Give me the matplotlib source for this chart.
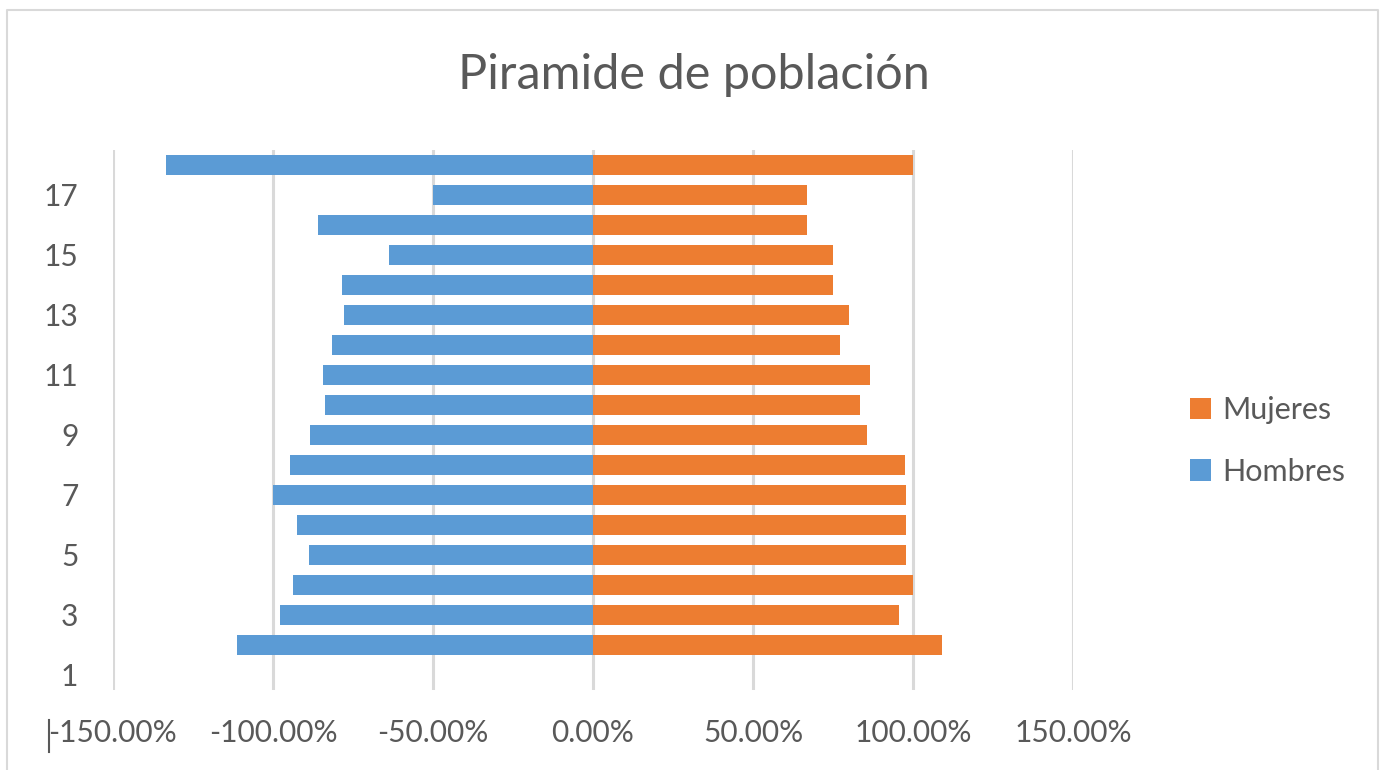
import matplotlib
matplotlib.use("Agg")
import matplotlib.pyplot as plt
from matplotlib.ticker import FuncFormatter, FixedLocator
from matplotlib.lines import Line2D

# age groups 1..18 (group 1 has no data)
groups = list(range(1, 19))
hombres = [0.0, -1.114, -0.979, -0.937, -0.887, -0.926, -1.000, -0.946, -0.884,
           -0.838, -0.844, -0.816, -0.778, -0.784, -0.636, -0.858, -0.500, -1.333]
mujeres = [0.0, 1.090, 0.957, 1.000, 0.979, 0.979, 0.979, 0.975, 0.856,
           0.833, 0.867, 0.771, 0.801, 0.751, 0.751, 0.668, 0.668, 1.000]
x_ticks = [-1.5, -1.0, -0.5, 0.0, 0.5, 1.0, 1.5]
y_ticks = [1, 3, 5, 7, 9, 11, 13, 15, 17]

blue = "#5B9BD5"
orange = "#ED7D31"
text_color = "#595959"
grid_color = "#D9D9D9"

plt.rcParams["font.family"] = ["Lato", "DejaVu Sans"]

W, H = 1383, 770
fig = plt.figure(figsize=(W / 100, H / 100), dpi=100)
ax = fig.add_axes([113 / W, 1 - 690 / H, (1073 - 113) / W, (690 - 150) / H])

ax.barh(groups, mujeres, height=0.66, color=orange, label="Mujeres", zorder=3)
ax.barh(groups, hombres, height=0.66, color=blue, label="Hombres", zorder=3)

ax.set_xlim(-1.5, 1.5)
ax.set_ylim(0.5, 18.5)
ax.xaxis.set_major_locator(FixedLocator(x_ticks))
ax.yaxis.set_major_locator(FixedLocator(y_ticks))
ax.xaxis.set_major_formatter(FuncFormatter(lambda v, p: f"{v * 100:.2f}%".replace("−", "-")))
ax.grid(axis="x", color=grid_color, linewidth=2.2, zorder=0)
ax.tick_params(axis="both", length=0, labelsize=21.5, labelcolor=text_color)
ax.tick_params(axis="x", pad=21)
ax.tick_params(axis="y", pad=25)
for s in ax.spines.values():
    s.set_visible(False)

fig.text(0.502, 1 - 75 / H, "Piramide de población", ha="center", va="center",
         fontsize=35, color=text_color)

ax.legend(loc="center left", bbox_to_anchor=(1190 / W, 1 - 441 / H),
          bbox_transform=fig.transFigure, frameon=False, fontsize=22,
          labelcolor=text_color, handlelength=0.7, handleheight=0.7,
          handletextpad=0.35, labelspacing=1.1, borderaxespad=0,
          borderpad=0)

# stray mark before the first tick label and the chart border
fig.add_artist(Line2D([49 / W, 49 / W], [1 - 720 / H, 1 - 752 / H],
                      color=text_color, linewidth=1.5, transform=fig.transFigure))
fig.add_artist(Line2D([7 / W, 7 / W, 1378 / W, 1378 / W],
                      [-0.01, 1 - 10 / H, 1 - 10 / H, -0.01],
                      color=grid_color, linewidth=1.5, transform=fig.transFigure))

fig.savefig("out.png", dpi=100)
